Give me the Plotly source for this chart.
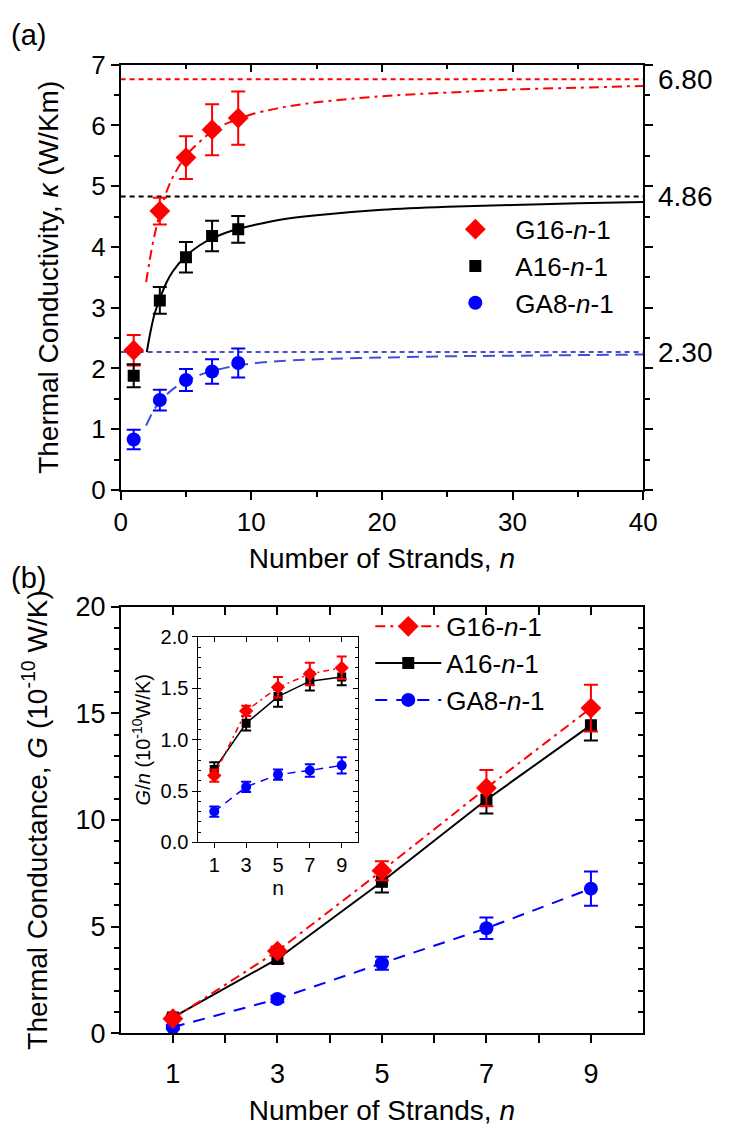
import plotly.graph_objects as go

# ---------------- data: panel (a) ----------------
n_top = [1, 3, 5, 7, 9]
k_G16 = [2.30, 4.59, 5.47, 5.93, 6.12]
e_G16 = [0.25, 0.22, 0.35, 0.42, 0.44]
k_A16 = [1.88, 3.12, 3.83, 4.18, 4.29]
e_A16 = [0.19, 0.22, 0.25, 0.25, 0.22]
k_GA8 = [0.83, 1.48, 1.81, 1.95, 2.09]
e_GA8 = [0.16, 0.17, 0.18, 0.20, 0.24]

fitx_G16 = [1.95, 2.2, 2.5, 3, 3.5, 4, 5, 6, 7, 8, 9, 10, 12, 15, 20, 25, 30, 35, 40]
fit_G16 = [3.42, 3.75, 4.10, 4.55, 4.90, 5.15, 5.50, 5.72, 5.90, 6.02, 6.10, 6.18, 6.28, 6.38, 6.48, 6.54, 6.59, 6.62, 6.65]
fitx_A16 = [2, 2.3, 2.6, 3, 3.5, 4, 5, 6, 7, 8, 9, 10, 12, 15, 20, 25, 30, 35, 40]
fit_A16 = [2.27, 2.62, 2.90, 3.15, 3.41, 3.60, 3.85, 4.02, 4.14, 4.23, 4.30, 4.35, 4.44, 4.52, 4.61, 4.66, 4.69, 4.72, 4.74]
fitx_GA8 = [1.95, 2.5, 3, 4, 5, 6, 7, 8, 9, 10, 12, 15, 20, 25, 30, 35, 40]
fit_GA8 = [1.06, 1.30, 1.45, 1.66, 1.79, 1.89, 1.96, 2.01, 2.05, 2.08, 2.12, 2.15, 2.18, 2.20, 2.21, 2.22, 2.23]

lim_x = [0, 40]
lim_vals = [6.76, 4.83, 2.27]
lim_labels = ["6.80", "4.86", "2.30"]

# ---------------- data: panel (b) ----------------
n_bot = [1, 3, 5, 7, 9]
G_G16 = [0.68, 3.85, 7.62, 11.50, 15.25]
eG_G16 = [0.12, 0.20, 0.45, 0.85, 1.10]
G_A16 = [0.74, 3.48, 7.10, 10.95, 14.45]
eG_A16 = [0.12, 0.20, 0.50, 0.65, 0.72]
G_GA8 = [0.28, 1.60, 3.28, 4.92, 6.78]
eG_GA8 = [0.10, 0.15, 0.30, 0.50, 0.80]

# inset G/n
Gn_G16 = [0.65, 1.28, 1.51, 1.64, 1.70]
eGn_G16 = [0.06, 0.05, 0.10, 0.11, 0.11]
Gn_A16 = [0.71, 1.16, 1.42, 1.57, 1.61]
eGn_A16 = [0.07, 0.07, 0.10, 0.09, 0.08]
Gn_GA8 = [0.30, 0.54, 0.66, 0.70, 0.75]
eGn_GA8 = [0.05, 0.05, 0.05, 0.06, 0.08]

names = ["G16-<i>n</i>-1", "A16-<i>n</i>-1", "GA8-<i>n</i>-1"]

# ---------------- styling ----------------
W, H = 731, 1127
FONT = "Liberation Sans, Arial, sans-serif"
RED, BLK, BLU = "#ff0000", "#000000", "#0000ff"
BLU_FIT = "#3f51d8"

top_dx = [117 / W, 655 / W]
top_dy = [1 - 488 / H, 1 - 51 / H]
bot_dy = [1 - 1046 / H, 1 - 608 / H]
ins_dx = [197 / W, 361 / W]
ins_dy = [1 - 850 / H, 1 - 639 / H]

fig = go.Figure()


def err(arr, color, w=7):
    return dict(type="data", array=arr, color=color, thickness=2, width=w, visible=True)


# ---- panel (a) ----
for yv, col in zip(lim_vals, [RED, BLK, BLU_FIT]):
    fig.add_trace(go.Scatter(x=lim_x, y=[yv, yv], mode="lines", xaxis="x", yaxis="y",
                             line=dict(color=col, width=2, dash="5px,4px"),
                             showlegend=False, hoverinfo="skip"))

fig.add_trace(go.Scatter(x=fitx_G16, y=fit_G16, mode="lines", xaxis="x", yaxis="y",
                         line=dict(color=RED, width=2, dash="10px,5px,3px,5px", shape="spline"),
                         showlegend=False, hoverinfo="skip"))
fig.add_trace(go.Scatter(x=fitx_A16, y=fit_A16, mode="lines", xaxis="x", yaxis="y",
                         line=dict(color=BLK, width=2, shape="spline"),
                         showlegend=False, hoverinfo="skip"))
fig.add_trace(go.Scatter(x=fitx_GA8, y=fit_GA8, mode="lines", xaxis="x", yaxis="y",
                         line=dict(color=BLU_FIT, width=2, dash="12px,7px", shape="spline"),
                         showlegend=False, hoverinfo="skip"))

fig.add_trace(go.Scatter(x=n_top, y=k_G16, mode="markers", name=names[0], xaxis="x", yaxis="y",
                         marker=dict(symbol="diamond", size=16, color=RED),
                         error_y=err(e_G16, RED), legend="legend"))
fig.add_trace(go.Scatter(x=n_top, y=k_A16, mode="markers", name=names[1], xaxis="x", yaxis="y",
                         marker=dict(symbol="square", size=12, color=BLK),
                         error_y=err(e_A16, BLK), legend="legend"))
fig.add_trace(go.Scatter(x=n_top, y=k_GA8, mode="markers", name=names[2], xaxis="x", yaxis="y",
                         marker=dict(symbol="circle", size=14, color=BLU),
                         error_y=err(e_GA8, BLU), legend="legend"))

# ---- panel (b) ----
fig.add_trace(go.Scatter(x=n_bot, y=G_GA8, mode="lines+markers", name=names[2], xaxis="x2", yaxis="y2",
                         line=dict(color=BLU, width=2, dash="12px,9px"),
                         marker=dict(symbol="circle", size=14, color=BLU),
                         error_y=err(eG_GA8, BLU), legend="legend2", legendrank=3))
fig.add_trace(go.Scatter(x=n_bot, y=G_A16, mode="lines+markers", name=names[1], xaxis="x2", yaxis="y2",
                         line=dict(color=BLK, width=2),
                         marker=dict(symbol="square", size=12, color=BLK),
                         error_y=err(eG_A16, BLK), legend="legend2", legendrank=2))
fig.add_trace(go.Scatter(x=n_bot, y=G_G16, mode="lines+markers", name=names[0], xaxis="x2", yaxis="y2",
                         line=dict(color=RED, width=2, dash="10px,5px,3px,5px"),
                         marker=dict(symbol="diamond", size=16, color=RED),
                         error_y=err(eG_G16, RED), legend="legend2", legendrank=1))

# ---- inset ----
fig.add_trace(go.Scatter(x=n_bot, y=Gn_GA8, mode="lines+markers", xaxis="x5", yaxis="y5",
                         line=dict(color=BLU, width=1.5, dash="8px,6px"),
                         marker=dict(symbol="circle", size=10, color=BLU),
                         error_y=err(eGn_GA8, BLU, 5), showlegend=False))
fig.add_trace(go.Scatter(x=n_bot, y=Gn_A16, mode="lines+markers", xaxis="x5", yaxis="y5",
                         line=dict(color=BLK, width=1.5),
                         marker=dict(symbol="square", size=9, color=BLK),
                         error_y=err(eGn_A16, BLK, 5), showlegend=False))
fig.add_trace(go.Scatter(x=n_bot, y=Gn_G16, mode="lines+markers", xaxis="x5", yaxis="y5",
                         line=dict(color=RED, width=1.5, dash="6px,4px,2px,4px"),
                         marker=dict(symbol="diamond", size=11, color=RED),
                         error_y=err(eGn_G16, RED, 5), showlegend=False))

# dummy traces so overlay (mirror) axes get drawn
for xa, ya in [("x3", "y"), ("x", "y3"), ("x4", "y2"), ("x2", "y4"), ("x6", "y5"), ("x5", "y6")]:
    fig.add_trace(go.Scatter(x=[None], y=[None], xaxis=xa, yaxis=ya, showlegend=False,
                             hoverinfo="skip", mode="markers"))

base = dict(showline=True, linecolor="black", linewidth=1.5, showgrid=False, zeroline=False,
            tickcolor="black", tickwidth=1.5, ticklen=8)


def ax(**kw):
    d = dict(base)
    d.update(kw)
    return d


tf = dict(family=FONT, size=26, color="black")
tfb = dict(family=FONT, size=27, color="black")
ttl = dict(family=FONT, size=28, color="black")
tfi = dict(family=FONT, size=20, color="black")
lgf = dict(family=FONT, size=26, color="black")

mn = lambda **k: dict(ticklen=5, tickwidth=1.5, tickcolor="black", **k)

layout = dict(
    width=W, height=H, margin=dict(l=0, r=0, t=0, b=0), autosize=False,
    paper_bgcolor="white", plot_bgcolor="white",
    font=dict(family=FONT, color="black"),
    # panel (a)
    xaxis=ax(domain=top_dx, anchor="y", range=[0, 40], tickvals=[0, 10, 20, 30, 40], ticks="outside",
             minor=mn(tickvals=[5, 15, 25, 35], ticks="outside"), tickfont=tf,
             title=dict(text="Number of Strands, <i>n</i>", font=ttl, standoff=12)),
    xaxis3=ax(overlaying="x", anchor="y", side="top", range=[0, 40], tickvals=[0, 10, 20, 30, 40],
              ticks="inside", minor=mn(tickvals=[5, 15, 25, 35], ticks="inside"), showticklabels=False),
    yaxis=ax(domain=top_dy, anchor="x", range=[0, 7], dtick=1, ticks="outside",
             minor=mn(dtick=0.5, ticks="outside"), tickfont=tf,
             title=dict(text="Thermal Conductivity, <i>κ</i> (W/Km)", font=ttl, standoff=24)),
    yaxis3=ax(overlaying="y", anchor="x", side="right", range=[0, 7], dtick=1, ticks="outside",
              minor=mn(dtick=0.5, ticks="outside"), showticklabels=False),
    # panel (b)
    xaxis2=ax(domain=top_dx, anchor="y2", range=[0, 10], tickvals=[1, 3, 5, 7, 9], ticks="outside",
              minor=dict(tickvals=[2, 4, 6, 8], ticks="outside", ticklen=8, tickwidth=1.5, tickcolor="black"),
              tickfont=tfb, ticklabelstandoff=8,
              title=dict(text="Number of Strands, <i>n</i>", font=ttl, standoff=12)),
    xaxis4=ax(overlaying="x2", anchor="y2", side="top", range=[0, 10], tickvals=[1, 3, 5, 7, 9],
              ticks="inside", minor=dict(tickvals=[2, 4, 6, 8], ticks="inside", ticklen=8, tickwidth=1.5,
                                         tickcolor="black"), showticklabels=False),
    yaxis2=ax(domain=bot_dy, anchor="x2", range=[0, 20], dtick=5, ticks="outside",
              minor=mn(dtick=1, ticks="outside"), tickfont=tfb,
              title=dict(text="Thermal Conductance, <i>G</i> (10<sup>-10</sup> W/K)", font=ttl, standoff=20)),
    yaxis4=ax(overlaying="y2", anchor="x2", side="right", range=[0, 20], dtick=5, ticks="inside",
              minor=mn(dtick=1, ticks="inside"), showticklabels=False),
    # inset
    xaxis5=ax(domain=ins_dx, anchor="y5", range=[0, 10], tickvals=[1, 3, 5, 7, 9], ticks="outside",
              ticklen=5, linewidth=1, tickwidth=1, tickfont=tfi,
              title=dict(text="n", font=dict(family=FONT, size=21, color="black"), standoff=0)),
    xaxis6=ax(overlaying="x5", anchor="y5", side="top", range=[0, 10], tickvals=[1, 3, 5, 7, 9],
              ticks="inside", ticklen=5, linewidth=1, tickwidth=1, showticklabels=False),
    yaxis5=ax(domain=ins_dy, anchor="x5", range=[0, 2], dtick=0.5, tickformat=".1f", ticks="outside",
              ticklen=5, linewidth=1, tickwidth=1, tickfont=tfi,
              minor=dict(dtick=0.1, ticks="inside", ticklen=3, tickwidth=1, tickcolor="black"),
              title=dict(text="<i>G</i>/<i>n</i> (10<sup>-10</sup>W/K)", font=dict(family=FONT, size=20, color="black"),
                         standoff=4)),
    yaxis6=ax(overlaying="y5", anchor="x5", side="right", range=[0, 2], dtick=0.5, ticks="inside",
              ticklen=5, linewidth=1, tickwidth=1, showticklabels=False,
              minor=dict(dtick=0.1, ticks="inside", ticklen=3, tickwidth=1, tickcolor="black")),
    legend=dict(x=441 / W, y=1 - 196 / H, xanchor="left", yanchor="top", bgcolor="rgba(0,0,0,0)",
                font=lgf, itemwidth=70, tracegroupgap=0),
    legend2=dict(x=374 / W, y=1 - 604 / H, xanchor="left", yanchor="top", bgcolor="rgba(0,0,0,0)",
                 font=lgf, itemwidth=66, traceorder="normal"),
    showlegend=True,
)
fig.update_layout(**layout)

annots = [
    dict(text="(a)", x=2 / W, y=1 - 2 / H, xref="paper", yref="paper", xanchor="left", yanchor="top",
         showarrow=False, font=dict(family=FONT, size=29, color="black")),
    dict(text="(b)", x=2 / W, y=1 - 560 / H, xref="paper", yref="paper", xanchor="left", yanchor="top",
         showarrow=False, font=dict(family=FONT, size=29, color="black")),
]
for v, lab in zip(lim_vals, lim_labels):
    annots.append(dict(text=lab, x=1, xref="x domain", y=v, yref="y", xanchor="left", yanchor="middle",
                       xshift=13, showarrow=False, font=dict(family=FONT, size=28, color="black")))
fig.update_layout(annotations=annots)

fig.write_html("out.html")
